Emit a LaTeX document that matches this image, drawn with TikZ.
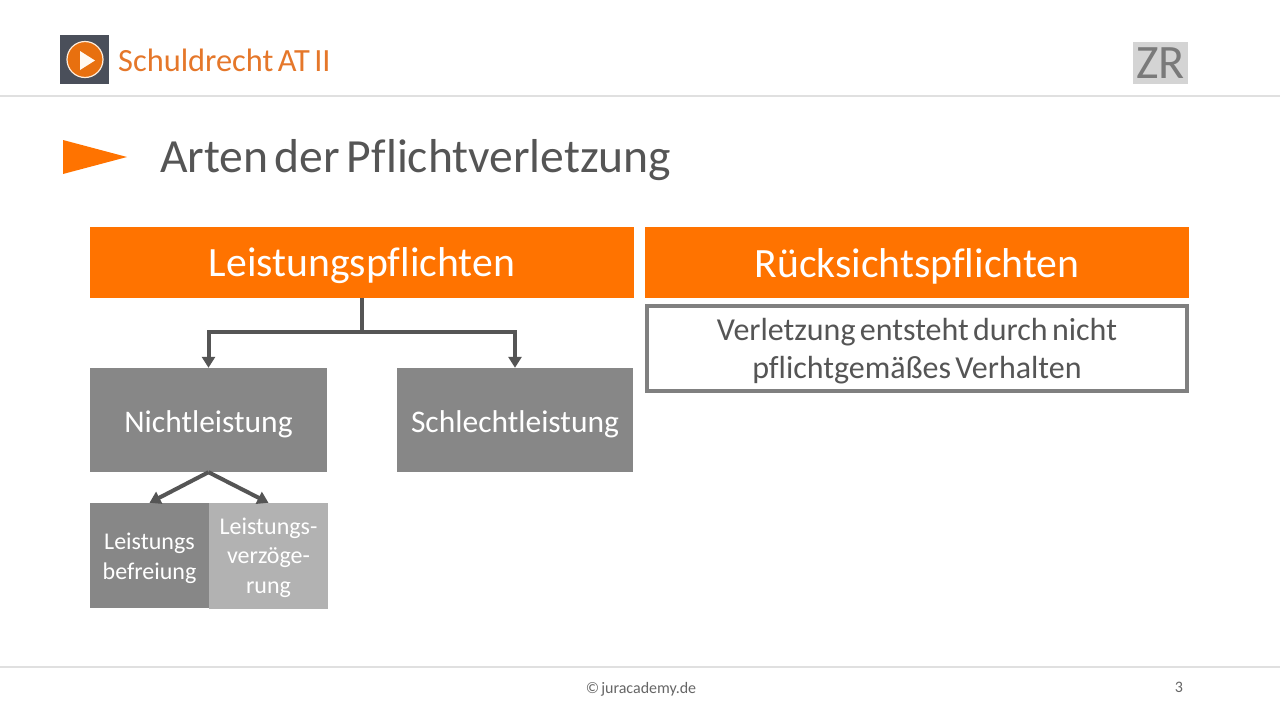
\documentclass[tikz,border=0pt]{standalone}
\usepackage{fontspec}
\setmainfont[Ligatures=NoCommon,WordSpace=0.6]{Carlito}
\usetikzlibrary{arrows.meta}
\definecolor{orangeA}{HTML}{FF7300}
\definecolor{orangeT}{HTML}{E5772A}
\definecolor{orangeI}{HTML}{E8700F}
\definecolor{greyA}{HTML}{878787}
\definecolor{greyB}{HTML}{B2B2B2}
\definecolor{darkT}{HTML}{555555}
\definecolor{slate}{HTML}{4A4F5A}
\newcommand{\topstrut}[1]{\rule{0pt}{#1pt}}
\tikzset{
  x=1pt,y=-1pt,
  head/.style={fill=orangeA,text=white,font=\fontsize{41.7}{44}\selectfont,anchor=center,inner sep=0pt},
  gbox/.style={fill=greyA,text=white,font=\fontsize{31.5}{36}\selectfont,inner sep=0pt},
  sbox/.style={text=white,font=\fontsize{24}{29.5}\selectfont,inner sep=0pt,align=center},
  conn/.style={draw=darkT,line width=4pt,-{Triangle[length=11pt,width=13pt]}},
  stem/.style={draw=darkT,line width=4pt},
  rule/.style={draw=black!12,line width=2pt},
}
\begin{document}
\begin{tikzpicture}
\useasboundingbox (0,0) rectangle (1280,720);
\fill[white] (0,0) rectangle (1280,720);
% header
\fill[slate] (60,35) rectangle (109,84);
\fill[orangeI,draw=white!85!orange,line width=1.2pt] (85,59.5) circle (18pt);
\fill[white!95!orange] (80,51) -- (95,60.5) -- (80,70) -- cycle;
\node[anchor=west,text=orangeT,font=\fontsize{32.4}{36}\selectfont,inner sep=0pt] (course) at (118,60) {Schuldrecht AT II};
\node[fill=black!17,text=black!52,font=\fontsize{48}{50}\selectfont,inner sep=0pt,minimum width=55pt,minimum height=42pt] (zr) at (1160.5,63) {\topstrut{30}ZR};
\coordinate (r1a) at (0,96); \coordinate (r1b) at (1280,96);
\draw[rule] (r1a) -- (r1b);
% title
\fill[orangeA] (63,140) -- (127,157) -- (63,174) -- cycle;
\node[anchor=west,text=darkT,font=\fontsize{47.6}{52}\selectfont,inner sep=0pt] (title) at (160,160) {Arten der Pflichtverletzung};
% heads
\node[head,minimum width=544pt,minimum height=71pt] (lp) at (362,262.5) {\topstrut{36}Leistungspflichten};
\node[head,minimum width=544pt,minimum height=71pt] (rp) at (917,262.5) {\topstrut{36}Rücksichtspflichten};
\node[draw=black!50,line width=4pt,text=darkT,font=\fontsize{32}{38}\selectfont,align=center,minimum width=540pt,minimum height=85pt,inner sep=0pt] (vz) at (917,348.5) {\topstrut{28}Verletzung entsteht durch nicht\\pflichtgemäßes Verhalten};
% boxes
\node[gbox,minimum width=237pt,minimum height=104pt] (nl) at (208.5,420) {\topstrut{30}Nichtleistung};
\node[gbox,minimum width=236pt,minimum height=104pt] (sl) at (515,420) {\topstrut{30}Schlechtleistung};
\node[sbox,fill=greyA,minimum width=119pt,minimum height=105pt] (lb) at (149.5,555.5) {\topstrut{22}Leistungs\\befreiung};
\node[sbox,fill=greyB,minimum width=119pt,minimum height=106pt] (lv) at (268.5,556) {\topstrut{20}Leistungs-\\verzöge-\\rung};
% connectors
\coordinate (jn) at (361.5,332);
\draw[stem] (lp.south -| jn) -- (jn);
\draw[conn] (jn) -| (nl.north);
\draw[conn] (jn) -| (sl.north);
\draw[conn] (nl.south) -- (lb.north);
\draw[conn] (nl.south) -- (lv.north);
% footer
\coordinate (r2a) at (0,667); \coordinate (r2b) at (1280,667);
\draw[rule] (r2a) -- (r2b);
\node[text=black!60,font=\fontsize{16}{18}\selectfont,inner sep=0pt] (copy) at (641,689) {© juracademy.de};
\node[text=black!60,font=\fontsize{16}{18}\selectfont,inner sep=0pt] (page) at (1179,687) {3};
\end{tikzpicture}
\end{document}
